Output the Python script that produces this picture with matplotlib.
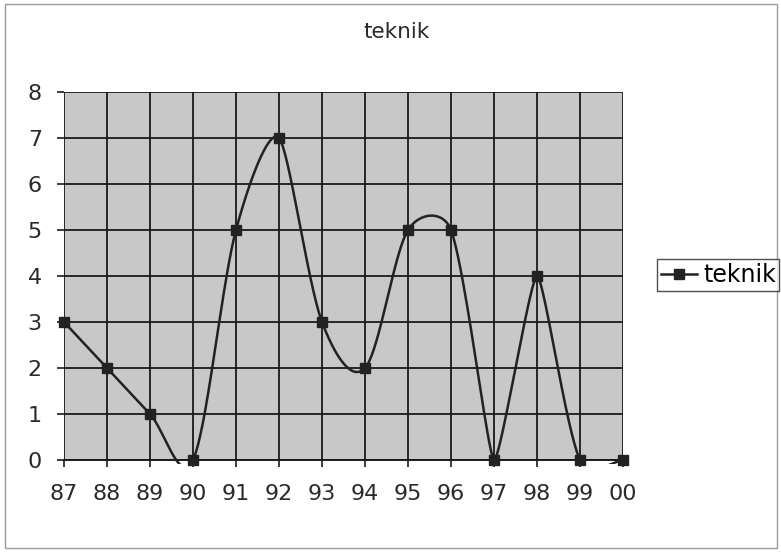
import matplotlib
matplotlib.use('Agg')
import matplotlib.pyplot as plt
import numpy as np
from matplotlib.patches import Rectangle

years = ['87', '88', '89', '90', '91', '92', '93', '94', '95', '96', '97', '98', '99', '00']
teknik = [3, 2, 1, 0, 5, 7, 3, 2, 5, 5, 0, 4, 0, 0]


def smooth(xs, ys, sx=43.0, sy=46.0, n=40):
    # excel-ish smoothing: bezier segments, handles along (next - prev),
    # length |next - prev| / 6, at most half the neighbouring segment (pixel space),
    # shortened at very sharp turns so peaks stay pointed
    pts = np.column_stack([np.asarray(xs, float) * sx, np.asarray(ys, float) * sy])
    m = len(pts)
    before, after = [], []
    for i in range(m):
        p0 = pts[max(i - 1, 0)]
        p1 = pts[i]
        p2 = pts[min(i + 1, m - 1)]
        d = p2 - p0
        d02 = np.hypot(*d)
        if d02 == 0:
            before.append(p1)
            after.append(p1)
            continue
        u = d / d02
        d01 = np.hypot(*(p1 - p0))
        d12 = np.hypot(*(p2 - p1))
        k = 1.0
        if d01 > 0 and d12 > 0:
            cosang = np.dot(p0 - p1, p2 - p1) / (d01 * d12)
            ang = np.degrees(np.arccos(np.clip(cosang, -1, 1)))
            k = min(1.0, ang / 55.0)
        h_in = k * (min(d02 / 6, d01 / 2) if d01 > 0 else d02 / 6)
        h_out = k * (min(d02 / 6, d12 / 2) if d12 > 0 else d02 / 6)
        before.append(p1 - u * h_in)
        after.append(p1 + u * h_out)
    t = np.linspace(0, 1, n)[:, None]
    out = []
    for i in range(m - 1):
        p0, c1, c2, p3 = pts[i], after[i], before[i + 1], pts[i + 1]
        out.append((1 - t) ** 3 * p0 + 3 * (1 - t) ** 2 * t * c1 + 3 * (1 - t) * t ** 2 * c2 + t ** 3 * p3)
    out = np.vstack(out)
    return out[:, 0] / sx, out[:, 1] / sy


plt.rcParams['font.family'] = ['DejaVu Sans']

fig = plt.figure(figsize=(7.81, 5.54), dpi=100)
ax = fig.add_axes([64 / 781, 1 - 460 / 554, (623 - 64) / 781, (460 - 92) / 554])
ax.set_facecolor('#c8c8c8')

x = np.arange(len(years))
lx, ly = smooth(x, teknik)
line, = ax.plot(lx, ly, color='#222222', lw=1.8, zorder=3)
line.set_clip_path(Rectangle((0, -0.012), 1, 1.012, transform=ax.transAxes))
ax.plot(x, teknik, ls='none', marker='s', ms=7, color='#222222', zorder=4, clip_on=False)
# legend proxy
ax.plot([], [], color='#222222', lw=1.8, marker='s', ms=7, label='teknik')

ax.set_xlim(0, len(years) - 1)
ax.set_ylim(0, 8)
ax.set_xticks(x)
ax.set_xticklabels(years)
ax.set_yticks(range(0, 9))
ax.grid(True, color='#1a1a1a', lw=1.3)
ax.set_axisbelow(True)
for s in ax.spines.values():
    s.set_visible(False)
ax.spines['bottom'].set_visible(True)
ax.spines['bottom'].set_linewidth(1.4)
ax.spines['bottom'].set_color('#1a1a1a')
ax.tick_params(axis='both', length=5, width=1.2, color='#1a1a1a', labelsize=16, labelcolor='#2a2a2a')
ax.tick_params(axis='x', pad=12)
ax.tick_params(axis='y', pad=11)

fig.text(397 / 781, 1 - 32 / 554, 'teknik', ha='center', va='center', fontsize=15.5, color='#2a2a2a')

leg = fig.legend(loc='center left', bbox_to_anchor=(657 / 781, 1 - 275 / 554), fontsize=17,
                 frameon=True, fancybox=False, borderpad=0.15, borderaxespad=0,
                 handlelength=1.55, handletextpad=0.25)
leg.get_frame().set_edgecolor('#222222')
leg.get_frame().set_linewidth(1.0)

fig.patches.append(Rectangle((5 / 781, 6 / 554), 772 / 781, 544 / 554, transform=fig.transFigure,
                             fill=False, edgecolor='#999999', lw=1.0))

plt.savefig('out.png', dpi=100)
